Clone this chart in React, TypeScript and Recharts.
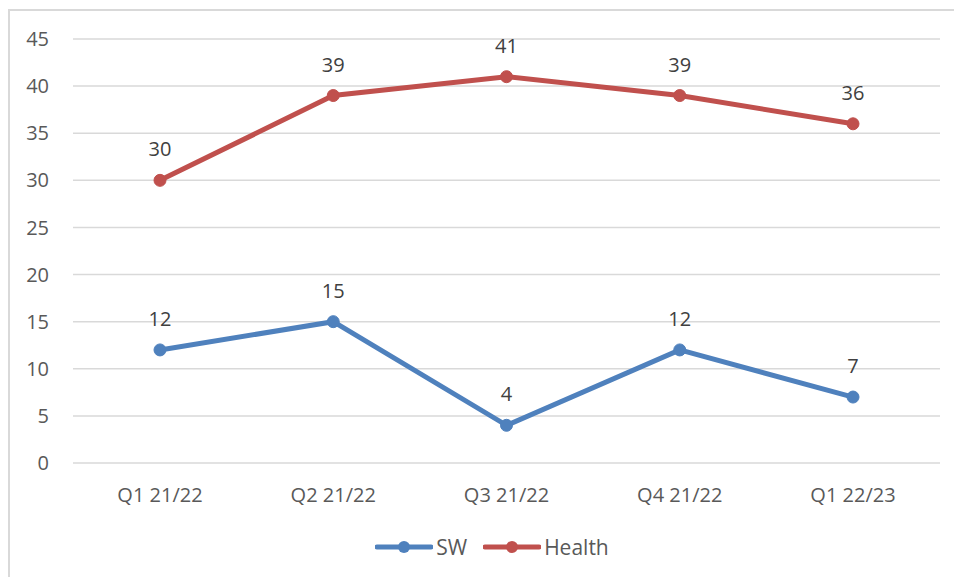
import React from 'react';
import { LineChart, Line, XAxis, YAxis, CartesianGrid, Legend, LabelList } from 'recharts';

const quarters = ['Q1 21/22', 'Q2 21/22', 'Q3 21/22', 'Q4 21/22', 'Q1 22/23'];
const swValues = [12, 15, 4, 12, 7];
const healthValues = [30, 39, 41, 39, 36];
const yTicks = [0, 5, 10, 15, 20, 25, 30, 35, 40, 45];

const data = quarters.map((q, i) => ({ quarter: q, SW: swValues[i], Health: healthValues[i] }));

const FONT = '"Open Sans", "Liberation Sans", sans-serif';
const BLUE = '#4F81BD';
const RED = '#C0504D';

export default function App() {
  return (
    <div style={{ position: 'absolute', left: 0, top: 0, width: 954, height: 577, background: '#fff', overflow: 'hidden', fontFamily: FONT }}>
      <div style={{ position: 'absolute', left: 8, top: 9, width: 960, height: 600, border: '2px solid #d9d9d9', boxSizing: 'border-box' }} />
      <LineChart width={954} height={577} data={data} margin={{ top: 39, right: 14, bottom: 0, left: 0 }}>
        <CartesianGrid vertical={false} stroke="#d9d9d9" strokeWidth={1.5} />
        <XAxis
          dataKey="quarter"
          padding={{ left: 87, right: 87 }}
          axisLine={false}
          tickLine={false}
          tickSize={0}
          tickMargin={25}
          height={76}
          tick={{ fill: '#595959', fontSize: 20, fontFamily: FONT }}
        />
        <YAxis
          domain={[0, 45]}
          ticks={yTicks}
          width={73}
          axisLine={false}
          tickLine={false}
          tickSize={0}
          tickMargin={24}
          tick={{ fill: '#595959', fontSize: 20, fontFamily: FONT }}
        />
        <Legend
          verticalAlign="bottom"
          height={38}
          content={() => (
            <div style={{ display: 'flex', justifyContent: 'center', alignItems: 'center', gap: 16, fontSize: 21, color: '#595959', fontFamily: FONT, paddingLeft: 44, marginTop: -6 }}>
              {[['SW', BLUE], ['Health', RED]].map(([name, color]) => (
                <div key={name} style={{ display: 'flex', alignItems: 'center', gap: 3 }}>
                  <svg width={58} height={14}>
                    <line x1={2} y1={7} x2={56} y2={7} stroke={color} strokeWidth={5} strokeLinecap="round" />
                    <circle cx={29} cy={7} r={6} fill={color} />
                  </svg>
                  <span>{name}</span>
                </div>
              ))}
            </div>
          )}
        />
        <Line
          dataKey="SW"
          stroke={BLUE}
          strokeWidth={5}
          dot={{ r: 6, fill: BLUE, stroke: BLUE, strokeWidth: 1 }}
          isAnimationActive={false}
        >
          <LabelList dataKey="SW" position="top" offset={24} fill="#404040" fontSize={20} fontFamily={FONT} />
        </Line>
        <Line
          dataKey="Health"
          stroke={RED}
          strokeWidth={5}
          dot={{ r: 6, fill: RED, stroke: RED, strokeWidth: 1 }}
          isAnimationActive={false}
        >
          <LabelList dataKey="Health" position="top" offset={24} fill="#404040" fontSize={20} fontFamily={FONT} />
        </Line>
      </LineChart>
    </div>
  );
}
